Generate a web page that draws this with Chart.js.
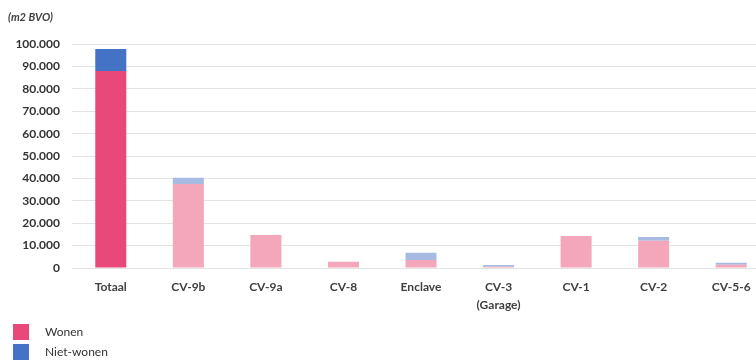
<!DOCTYPE html>
<html>
<head>
<meta charset="utf-8">
<script src="https://cdn.jsdelivr.net/npm/chart.js@4"></script>
<style>
  html, body { margin: 0; padding: 0; background: #fff; overflow: hidden; }
  #wrap { width: 770px; height: 360px; }
</style>
</head>
<body>
<div id="wrap"><canvas id="chart" width="770" height="360"></canvas></div>
<script>
const categories = ["Totaal", "CV-9b", "CV-9a", "CV-8", "Enclave", ["CV-3", "(Garage)"], "CV-1", "CV-2", "CV-5-6"];
const wonen = [88000, 37500, 14700, 2800, 3600, 600, 14300, 12200, 1500];
const nietWonen = [9800, 2800, 0, 0, 3200, 700, 0, 1600, 900];
const seriesNames = ["Wonen", "Niet-wonen"];
const yMax = 100000;
const yStep = 10000;

const FONT = "Lato, 'Open Sans', sans-serif";

// Totaal in full colour, the sub-areas lighter
const wonenColors = categories.map((c, i) => i === 0 ? "#E8497A" : "#F4A6BA");
const nietColors = categories.map((c, i) => i === 0 ? "#4472C4" : "#A6BAE2");

function fmt(v) {
  return String(v).replace(/\B(?=(\d{3})+(?!\d))/g, ".");
}

// vertical legend under the axis, like the original
const legendBelow = {
  id: "legendBelow",
  afterDraw(chart) {
    const ctx = chart.ctx;
    ctx.save();
    ctx.font = "12px " + FONT;
    ctx.textBaseline = "middle";
    chart.data.datasets.forEach((ds, i) => {
      const y = 324 + i * 20;
      ctx.fillStyle = ds.backgroundColor[0];
      ctx.fillRect(13, y, 16, 16);
      ctx.fillStyle = "#333";
      ctx.fillText(ds.label, 45, y + 8);
    });
    ctx.restore();
  }
};

new Chart(document.getElementById("chart"), {
  type: "bar",
  data: {
    labels: categories,
    datasets: [
      { label: seriesNames[0], data: wonen, backgroundColor: wonenColors },
      { label: seriesNames[1], data: nietWonen, backgroundColor: nietColors }
    ]
  },
  options: {
    responsive: false,
    animation: false,
    devicePixelRatio: 1,
    layout: { padding: { left: 8, top: 0, right: 0, bottom: 0 } },
    datasets: { bar: { barPercentage: 1, categoryPercentage: 0.4 } },
    scales: {
      x: {
        stacked: true,
        grid: { display: false },
        border: { display: false },
        ticks: {
          color: "#404040",
          font: { family: FONT, size: 12, weight: "bold", lineHeight: 1.5 },
          padding: 2,
          maxRotation: 0,
          autoSkip: false
        },
        afterFit(scale) { scale.height = 92; }
      },
      y: {
        stacked: true,
        min: 0,
        max: yMax,
        grid: { color: "#E3E3E3", drawTicks: false },
        border: { display: false },
        ticks: {
          stepSize: yStep,
          color: "#333",
          padding: 12,
          font: { family: FONT, size: 12, weight: "bold" },
          callback: v => fmt(v)
        },
        afterFit(scale) { scale.width = 64; }
      }
    },
    plugins: {
      legend: { display: false },
      tooltip: { enabled: false },
      title: {
        display: true,
        text: "(m2 BVO)",
        align: "start",
        color: "#404040",
        font: { family: FONT, size: 11, style: "italic", weight: "bold" },
        padding: { top: 11, bottom: 20 }
      }
    }
  },
  plugins: [legendBelow]
});
</script>
</body>
</html>
